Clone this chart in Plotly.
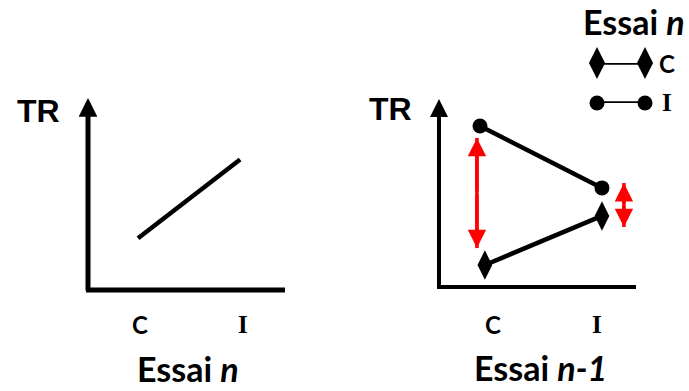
import plotly.graph_objects as go

W, H = 689, 391
categories = ["C", "I"]
# Left panel (Essai n): RT as a function of current trial
left_values = [2.7, 6.8]
# Right panel (Essai n-1): RT by previous trial, split by current trial
right_I_values = [8.56, 5.27]   # current trial I (circles)
right_C_values = [1.17, 3.78]   # current trial C (diamonds)
# red double arrows (interference effect), [top, bottom] per category
arrow_C = [7.93, 2.07]
arrow_I = [5.53, 3.19]

def px(x):
    return x / W

def py(y):
    return 1 - y / H

fig = go.Figure()
cat_x = [0, 1]

fig.add_trace(go.Scatter(x=cat_x, y=left_values, mode="lines",
                         line=dict(color="black", width=4.5), xaxis="x", yaxis="y",
                         showlegend=False, cliponaxis=False))
fig.add_trace(go.Scatter(x=cat_x, y=right_I_values, mode="lines+markers",
                         line=dict(color="black", width=4.5),
                         marker=dict(symbol="circle", size=15, color="black"),
                         xaxis="x2", yaxis="y2", showlegend=False, cliponaxis=False))
fig.add_trace(go.Scatter(x=[c + 0.04 * (1 - c) for c in cat_x], y=right_C_values, mode="lines+markers",
                         line=dict(color="black", width=4.5),
                         marker=dict(symbol="diamond-tall", size=21, color="black"),
                         xaxis="x2", yaxis="y2", showlegend=False, cliponaxis=False))
# legend samples
fig.add_trace(go.Scatter(x=[0, 1], y=[1, 1], mode="lines+markers",
                         line=dict(color="black", width=3.5),
                         marker=dict(symbol="diamond-tall", size=23, color="black"),
                         xaxis="x3", yaxis="y3", showlegend=False, cliponaxis=False))
fig.add_trace(go.Scatter(x=[0, 1], y=[0, 0], mode="lines+markers",
                         line=dict(color="black", width=3.5),
                         marker=dict(symbol="circle", size=15, color="black"),
                         xaxis="x3", yaxis="y3", showlegend=False, cliponaxis=False))

hidden = dict(visible=False, fixedrange=True)
fig.update_layout(
    width=W, height=H, margin=dict(l=0, r=0, t=0, b=0),
    paper_bgcolor="white", plot_bgcolor="rgba(0,0,0,0)",
    xaxis=dict(domain=[px(88), px(285)], range=[-0.49, 1.44], **hidden),
    yaxis=dict(domain=[py(290), py(98)], range=[0, 10], **hidden),
    xaxis2=dict(domain=[px(439), px(636)], range=[-0.336, 1.279], anchor="y2", **hidden),
    yaxis2=dict(domain=[py(287), py(99)], range=[0, 10], anchor="x2", **hidden),
    xaxis3=dict(domain=[px(597), px(645)], range=[0, 1], anchor="y3", **hidden),
    yaxis3=dict(domain=[py(103), py(63)], range=[0, 1], anchor="x3", **hidden),
)

# axes: horizontal lines
fig.add_shape(type="line", xref="paper", yref="paper", x0=px(86), x1=px(285), y0=py(290), y1=py(290),
              line=dict(color="black", width=5))
fig.add_shape(type="line", xref="paper", yref="paper", x0=px(437), x1=px(636), y0=py(287), y1=py(287),
              line=dict(color="black", width=4))

ann = []
# vertical axis arrows
ann.append(dict(xref="paper", yref="paper", axref="pixel", ayref="pixel",
                x=px(88), y=py(98), ax=0, ay=194, showarrow=True, arrowhead=2,
                arrowsize=0.75, arrowwidth=5, arrowcolor="black", text=""))
ann.append(dict(xref="paper", yref="paper", axref="pixel", ayref="pixel",
                x=px(439), y=py(99), ax=0, ay=190, showarrow=True, arrowhead=2,
                arrowsize=0.9, arrowwidth=4, arrowcolor="black", text=""))
# red double arrows: shaft as a line, heads as annotations
for xv, (top, bot) in [(-0.025, arrow_C), (1.18, arrow_I)]:
    fig.add_shape(type="line", xref="x2", yref="y2", x0=xv, x1=xv, y0=bot, y1=top,
                  line=dict(color="#FF0000", width=3.5))
    mid = (top + bot) / 2
    for end in (top, bot):
        ann.append(dict(xref="x2", yref="y2", axref="x2", ayref="y2",
                        x=xv, y=end, ax=xv, ay=mid, showarrow=True, arrowhead=2,
                        arrowsize=1.05, arrowwidth=3.5,
                        arrowcolor="#FF0000", text=""))

sans_b = "Liberation Sans"
cal = "Lato"
def text(x, y, s, size, family, color="black"):
    ann.append(dict(xref="paper", yref="paper", x=px(x), y=py(y), text=s,
                    showarrow=False, font=dict(size=size, family=family, color=color),
                    xanchor="center", yanchor="middle"))

text(38, 111, "<b>TR</b>", 32, sans_b)
text(390, 109, "<b>TR</b>", 32, sans_b)
text(140, 324, "<b>" + categories[0] + "</b>", 24, cal)
text(243, 324, "<b>" + categories[1] + "</b>", 25, "Liberation Serif")
text(493, 324, "<b>" + categories[0] + "</b>", 24, cal)
text(597, 324, "<b>" + categories[1] + "</b>", 25, "Liberation Serif")
text(188, 368, "<b>Essai <i>n</i></b>", 34, cal)
text(540, 367, "<b>Essai <i>n-1</i></b>", 34, cal)
text(634, 22, "<b>Essai <i>n</i></b>", 34, cal)
text(667, 63, "<b>" + categories[0] + "</b>", 24, cal)
text(667, 103, "<b>" + categories[1] + "</b>", 25, "Liberation Serif")

fig.update_layout(annotations=ann)
fig.write_html("out.html", config={"displayModeBar": False},
               post_script="document.body.style.margin='0';document.body.style.overflow='hidden';")
